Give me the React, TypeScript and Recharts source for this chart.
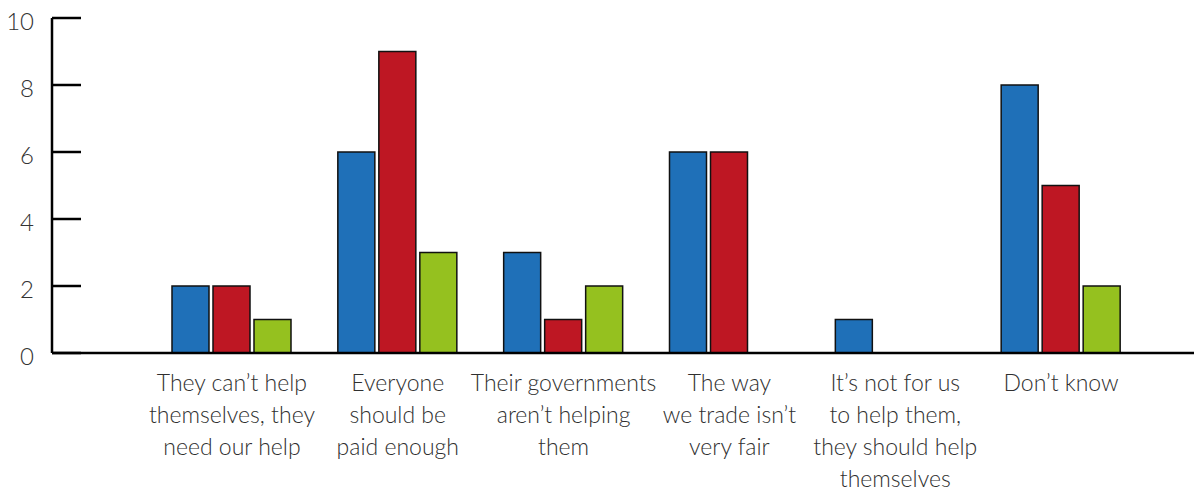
import { Bar, BarChart, XAxis, YAxis } from "recharts";

// categories (line breaks mark how the labels wrap)
const categories = [
	"They can’t help\nthemselves, they\nneed our help",
	"Everyone\nshould be\npaid enough",
	"Their governments\naren’t helping\nthem",
	"The way\nwe trade isn’t\nvery fair",
	"It’s not for us\nto help them,\nthey should help\nthemselves",
	"Don’t know",
];

const blueValues = [2, 6, 3, 6, 1, 8];
const redValues = [2, 9, 1, 6, 0, 5];
const greenValues = [1, 3, 2, 0, 0, 2];

const yTicks = [0, 2, 4, 6, 8, 10];

const data = categories.map((c, i) => ({
	category: c,
	blue: blueValues[i],
	red: redValues[i],
	green: greenValues[i],
}));

const FONT = "Lato, 'Open Sans', sans-serif";
const AXIS_X = 52;

const YTick = ({ y, payload }: any) => (
	<g>
		<line x1={AXIS_X} x2={AXIS_X + 29} y1={y} y2={y} stroke="#000" strokeWidth={2.5} />
		<text
			x={34}
			y={y}
			dy={12}
			textAnchor="end"
			fontFamily={FONT}
			fontWeight={300}
			fontSize={24}
			fill="#333"
		>
			{payload.value}
		</text>
	</g>
);

const XTick = ({ x, payload }: any) => {
	const lines = String(payload.value).split("\n");
	return (
		<text
			x={x}
			y={391}
			textAnchor="middle"
			fontFamily={FONT}
			fontWeight={300}
			fontSize={23}
			fill="#2f2f2f"
		>
			{lines.map((l, i) => (
				<tspan key={i} x={x} dy={i === 0 ? 0 : 32}>
					{l}
				</tspan>
			))}
		</text>
	);
};

export default function App() {
	return (
		<div style={{ width: 1194, height: 491, background: "#fff" }}>
			<style>{"body{margin:0}"}</style>
			<BarChart
				width={1194}
				height={491}
				data={data}
				margin={{ top: 18, right: 0, bottom: 0, left: 0 }}
				barGap={4}
				barSize={37}
			>
				<XAxis
					dataKey="category"
					height={138}
					padding={{ left: 97, right: 50 }}
					axisLine={{ stroke: "#000", strokeWidth: 2.5 }}
					tickLine={false}
					tick={<XTick />}
					interval={0}
				/>
				<YAxis
					width={AXIS_X}
					domain={[0, 10]}
					ticks={yTicks}
					axisLine={{ stroke: "#000", strokeWidth: 2.5 }}
					tickLine={false}
					tick={<YTick />}
				/>
				<Bar dataKey="blue" fill="#1f70b8" stroke="#111" strokeWidth={1.5} isAnimationActive={false} />
				<Bar dataKey="red" fill="#be1723" stroke="#111" strokeWidth={1.5} isAnimationActive={false} />
				<Bar dataKey="green" fill="#95c11f" stroke="#111" strokeWidth={1.5} isAnimationActive={false} />
			</BarChart>
		</div>
	);
}
